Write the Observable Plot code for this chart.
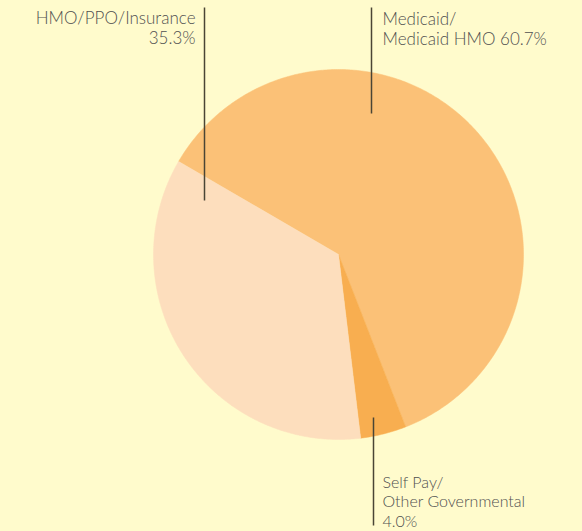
<!DOCTYPE html>
<html>
<head>
<meta charset="utf-8">
<script src="https://cdn.jsdelivr.net/npm/d3@7"></script>
<script src="https://cdn.jsdelivr.net/npm/@observablehq/plot@0.6"></script>
<style>
  html, body { margin: 0; padding: 0; background: #FFFBCC; }
  #chart svg { display: block; }
</style>
</head>
<body>
<div id="chart"></div>
<script>
// --- data ---
const categories = ["Medicaid/\nMedicaid HMO", "Self Pay/\nOther Governmental", "HMO/PPO/Insurance"];
const shares = [60.7, 4.0, 35.3];
const labels = ["Medicaid/\nMedicaid HMO 60.7%", "Self Pay/\nOther Governmental\n4.0%", "HMO/PPO/Insurance\n35.3%"];
const colors = ["#FBC177", "#F8AE50", "#FDDEBD"];

// --- layout (pixel units, scales map 1:1) ---
const W = 582, H = 531;
const cx = 338, cy = 254, R = 185;
const startDeg = -59.8;
const leaders = [
  {x: 371, y1: 7, y2: 113},
  {x: 373, y1: 417, y2: 525},
  {x: 204, y1: 7, y2: 200}
];
const labelPos = [
  {x: 382, y: 10.5, anchor: "start", size: 17, lh: 1.16},
  {x: 382, y: 473.5, anchor: "start", size: 16, lh: 1.22},
  {x: 195, y: 9.5, anchor: "end", size: 17, lh: 1.16}
];

const arcs = d3.pie().sort(null)
  .startAngle(startDeg * Math.PI / 180)
  .endAngle(startDeg * Math.PI / 180 + 2 * Math.PI)(shares);

const pts = [];
arcs.forEach((a, i) => {
  const n = Math.max(8, Math.ceil((a.endAngle - a.startAngle) / 0.01));
  pts.push({k: i, x: cx, y: cy});
  for (let j = 0; j <= n; j++) {
    const t = a.startAngle + (a.endAngle - a.startAngle) * j / n;
    pts.push({k: i, x: cx + R * Math.sin(t), y: cy - R * Math.cos(t)});
  }
  pts.push({k: i, x: cx, y: cy});
});

const leaderData = leaders.map((d, i) => ({...d, k: i}));
const labelData = labelPos.map((d, i) => ({...d, text: labels[i], k: i}));

const textMarks = labelData.map(d => Plot.text([d], {
  x: "x", y: "y", text: "text", lineAnchor: "top", textAnchor: d.anchor,
  fontSize: d.size, lineHeight: d.lh, fill: "#505050", fontWeight: 300
}));

const chart = Plot.plot({
  width: W, height: H,
  margin: 0,
  style: {background: "#FFFBCC", fontFamily: "Lato, sans-serif"},
  x: {domain: [0, W], range: [0, W], axis: null},
  y: {domain: [0, H], range: [0, H], axis: null},
  marks: [
    Plot.line(pts, {x: "x", y: "y", z: "k", fill: d => colors[d.k], stroke: d => colors[d.k], strokeWidth: 0.5, curve: "linear"}),
    Plot.link(leaderData, {x1: "x", x2: "x", y1: "y1", y2: "y2", stroke: "#4a4535", strokeWidth: 1.5}),
    ...textMarks
  ]
});
document.getElementById("chart").appendChild(chart);
</script>
</body>
</html>
